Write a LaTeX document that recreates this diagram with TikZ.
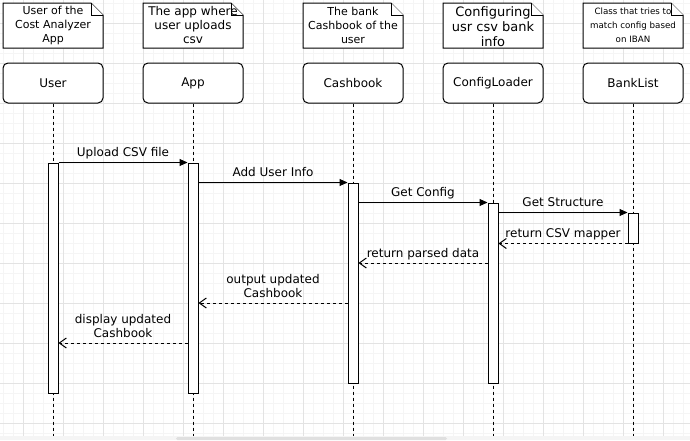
\documentclass[tikz,border=0pt]{standalone}
\usepackage{fontspec}
\setmainfont{DejaVu Sans}
\usetikzlibrary{arrows.meta}
\tikzset{
	head/.style={draw, line width=1pt, fill=white, rounded corners=5pt, minimum width=100pt, minimum height=40pt, inner sep=0pt, font=\fontsize{12}{14}\selectfont},
	bar/.style={draw, line width=1pt, fill=white, minimum width=10pt, inner sep=0pt},
	note/.style={line width=1pt, fill=white},
	life/.style={line width=1pt, dash pattern=on 3pt off 3pt},
	call/.style={line width=1pt, -{Triangle[length=8pt,width=7pt]}},
	reply/.style={line width=1pt, dash pattern=on 3pt off 3pt, -{Straight Barb[length=7pt,width=10pt,line width=1pt]}},
	lbl/.style={above=5.5pt, inner sep=0pt, text depth=0pt, align=center, font=\fontsize{12}{14}\selectfont},
	gridminor/.style={draw=black!4, line width=1pt},
	gridmajor/.style={draw=black!11, line width=1pt},
}
% note with folded corner: name, centre x, centre y, font, text
\newcommand{\foldnote}[5]{%
	\filldraw[note] (#2-50,3) -- (#2+38,3) -- (#2+50,15) -- (#2+50,48) -- (#2-50,48) -- cycle;
	\draw[note] (#2+38,3) -- (#2+38,15) -- (#2+50,15);
	\node[inner sep=0pt, align=center, font=#4] (#1) at (#2,#3) {#5};}

\begin{document}
\begin{tikzpicture}[x=1pt, y=-1pt]
		%%%%% START %%%%%
		\useasboundingbox (0,0) rectangle (690,440);
		
		\foreach \x in {3,13,...,683} \draw[gridminor] (\x,0) -- (\x,440);
		\foreach \y in {3,13,...,433} \draw[gridminor] (0,\y) -- (690,\y);
		\foreach \x in {23,63,...,663} \draw[gridmajor] (\x,0) -- (\x,440);
		\foreach \y in {23,63,...,423} \draw[gridmajor] (0,\y) -- (690,\y);
		\fill[black!4] (0,436) rectangle (690,440);
		\fill[black!12, rounded corners=1.5pt] (176,437) rectangle (447,440);
		
		\foldnote{usernote}{53}{25.5}{\fontsize{11}{14}\selectfont}{User of the\\Cost Analyzer\\App}
		\foldnote{appnote}{193}{25.5}{\fontsize{12}{14}\selectfont}{The app where\\user uploads\\csv}
		\foldnote{cashnote}{353}{25.5}{\fontsize{11}{14}\selectfont}{The bank\\Cashbook of the\\user}
		\foldnote{confnote}{493}{27}{\fontsize{13}{15}\selectfont}{Configuring\\usr csv bank\\info}
		\foldnote{banknote}{633}{25.5}{\fontsize{8.7}{14}\selectfont}{Class that tries to\\match config based\\on IBAN}
		
		\node[head] (user) at (53,83) {User};
		\node[head] (app) at (193,83) {App};
		\node[head] (cash) at (353,83) {Cashbook};
		\node[head] (conf) at (493,83) {ConfigLoader};
		\node[head] (bank) at (633,83) {BankList};
		
		\coordinate (bottom) at (0,436);
		\foreach \n in {user,app,cash,conf,bank}
			\draw[life] (\n.south) -- (\n.south |- bottom);
		
		\node[bar, minimum height=230pt] (ubar) at (53,278) {};
		\node[bar, minimum height=230pt] (abar) at (193,278) {};
		\node[bar, minimum height=200pt] (cbar) at (353,283) {};
		\node[bar, minimum height=180pt] (kbar) at (493,293) {};
		\node[bar, minimum height=30pt] (bbar) at (633,228) {};
		
		\draw[call] (ubar.north east) -- (abar.north west) node[lbl, midway] {Upload CSV file};
		\draw[call] (abar.east |- cbar.north) -- (cbar.north west) node[lbl, midway] {Add User Info};
		\draw[call] (cbar.east |- kbar.north) -- (kbar.north west) node[lbl, midway] {Get Config};
		\draw[call] (kbar.east |- bbar.north) -- (bbar.north west) node[lbl, midway] {Get Structure};
		\draw[reply] (bbar.south west) -- (kbar.east |- bbar.south) node[lbl, midway] {return CSV mapper};
		
		\coordinate (parsed) at (0,263);
		\coordinate (output) at (0,303);
		\coordinate (display) at (0,343);
		\draw[reply] (kbar.west |- parsed) -- (cbar.east |- parsed) node[lbl, midway] {return parsed data};
		\draw[reply] (cbar.west |- output) -- (abar.east |- output) node[lbl, midway] {output updated\\Cashbook};
		\draw[reply] (abar.west |- display) -- (ubar.east |- display) node[lbl, midway] {display updated\\Cashbook};
		
		%%%%% END %%%%%
	\end{tikzpicture}
\end{document}
